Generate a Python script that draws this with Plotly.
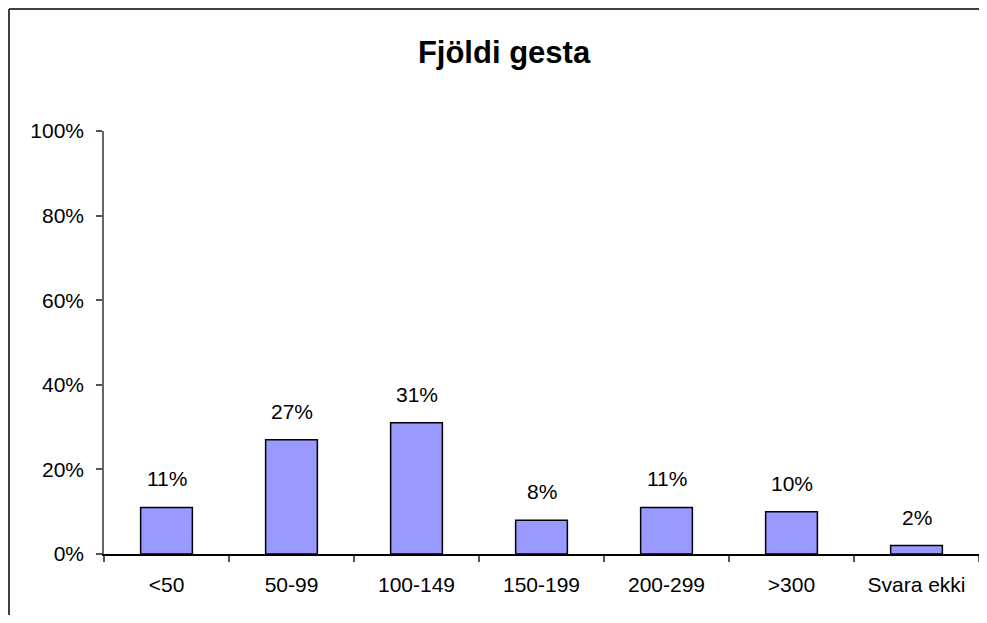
import plotly.graph_objects as go

categories = ["<50", "50-99", "100-149", "150-199", "200-299", ">300", "Svara ekki"]
values = [11, 27, 31, 8, 11, 10, 2]
y_ticks = [0, 20, 40, 60, 80, 100]
title_text = "Fjöldi gesta"

FONT = "Arial, Liberation Sans, sans-serif"

# page body has an 8px margin; size the figure so it fits the window
W, H = 971, 607
L, R, T, B = 96, 0, 123, 61
pw, ph = W - L - R, H - T - B

fig = go.Figure()
fig.add_trace(go.Bar(
    x=categories, y=values,
    marker=dict(color="#9999FF", line=dict(color="black", width=1.5)),
    hoverinfo="skip",
))

for c, v in zip(categories, values):
    fig.add_annotation(x=c, y=v, text=f"{v}%", showarrow=False,
                       yanchor="bottom", yshift=15,
                       font=dict(family=FONT, size=21, color="black"))

# outer chart border: only top and left edges are visible in the window
bx0 = (1 - L) / pw
by1 = (H - B - 1) / ph
fig.add_shape(type="line", xref="paper", yref="paper",
              x0=bx0, x1=(W + 20 - L) / pw, y0=by1, y1=by1,
              line=dict(color="black", width=1.5), layer="below")
fig.add_shape(type="line", xref="paper", yref="paper",
              x0=bx0, x1=bx0, y0=by1, y1=-(B + 20) / ph,
              line=dict(color="black", width=1.5), layer="below")

fig.update_layout(
    width=W, height=H,
    margin=dict(l=L, r=R, t=T, b=B),
    paper_bgcolor="white", plot_bgcolor="white",
    font=dict(family=FONT, size=21, color="black"),
    showlegend=False,
    bargap=0.586,
    title=dict(text=f"<b>{title_text}</b>", x=496 / W, xanchor="center",
               xref="container", yref="container", y=1 - 44 / H, yanchor="middle",
               font=dict(family=FONT, size=31, color="black")),
    xaxis=dict(type="category", showgrid=False, showline=True, linecolor="black",
               linewidth=1.5, ticks="outside", tickson="boundaries", ticklen=6,
               tickcolor="#555", tickwidth=1.5, ticklabelstandoff=11,
               tickfont=dict(size=21), range=[-0.5, 6.5], fixedrange=True),
    yaxis=dict(range=[0, 100], tickvals=y_ticks, ticktext=[f"{t}%" for t in y_ticks],
               showgrid=False, showline=True, linecolor="#666", linewidth=1.5,
               ticks="outside", ticklen=6, tickcolor="#555", tickwidth=1.5,
               ticklabelstandoff=8, tickfont=dict(size=21), zeroline=False,
               fixedrange=True),
)

fig.write_html("out.html")
